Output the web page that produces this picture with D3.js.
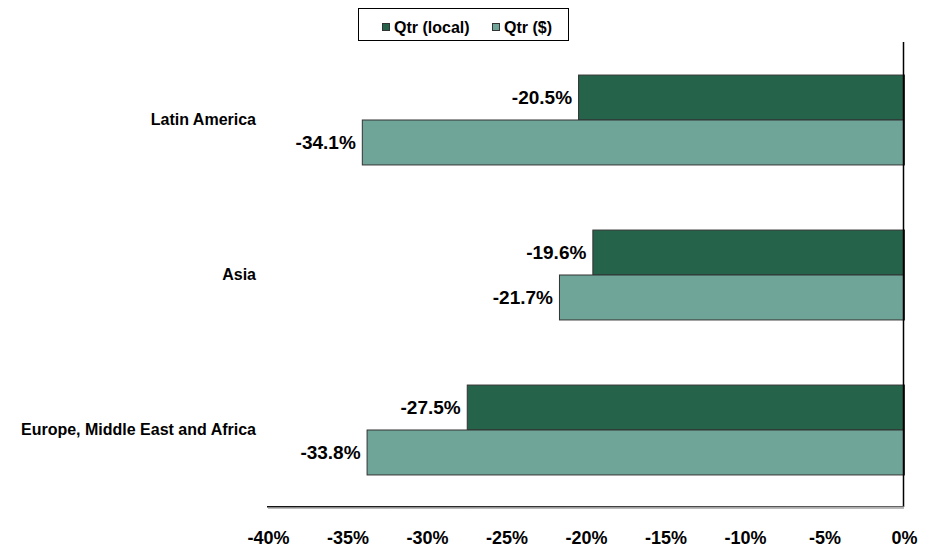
<!DOCTYPE html>
<html>
<head>
<meta charset="utf-8">
<script src="https://cdn.jsdelivr.net/npm/d3@7"></script>
<style>
  html, body { margin: 0; padding: 0; background: #fff; }
  svg text { font-family: "Liberation Sans", Arial, sans-serif; font-weight: bold; fill: #000; }
</style>
</head>
<body>
<svg id="chart" width="940" height="550"></svg>
<script>
const categories = ["Latin America", "Asia", "Europe, Middle East and Africa"];
const seriesNames = ["Qtr (local)", "Qtr ($)"];
const qtrLocal = [-20.5, -19.6, -27.5];
const qtrUSD = [-34.1, -21.7, -33.8];
const tickValues = [-40, -35, -30, -25, -20, -15, -10, -5, 0];
const colors = ["#25634a", "#6fa598"];

const svg = d3.select("#chart");
const x = d3.scaleLinear().domain([-40, 0]).range([268, 904]);
const y = d3.scaleBand().domain(categories).range([42, 507]).paddingInner(0.42).paddingOuter(0.21);
const ySub = d3.scaleBand().domain(seriesNames).range([0, y.bandwidth()]);

const data = categories.map((c, i) => ({cat: c, vals: [qtrLocal[i], qtrUSD[i]]}));

// bars
const groups = svg.append("g").selectAll("g").data(data).join("g")
  .attr("transform", d => `translate(0,${y(d.cat)})`);
groups.selectAll("rect").data(d => d.vals.map((v, j) => ({v, s: seriesNames[j], j})))
  .join("rect")
  .attr("x", d => x(d.v) + 0.5)
  .attr("y", d => ySub(d.s) + 0.5)
  .attr("width", d => x(0) - x(d.v))
  .attr("height", ySub.bandwidth())
  .attr("fill", d => colors[d.j])
  .attr("stroke", "#333")
  .attr("stroke-width", 1);

groups.selectAll("text.val").data(d => d.vals.map((v, j) => ({v, s: seriesNames[j]})))
  .join("text").attr("class", "val")
  .attr("x", d => x(d.v) - 6)
  .attr("y", d => ySub(d.s) + ySub.bandwidth() / 2)
  .attr("dy", "0.36em")
  .attr("text-anchor", "end")
  .style("font-size", "19px")
  .text(d => d.v.toFixed(1) + "%");

// category labels
svg.append("g").selectAll("text").data(categories).join("text")
  .attr("x", 256)
  .attr("y", d => y(d) + y.bandwidth() / 2)
  .attr("dy", "0.36em")
  .attr("text-anchor", "end")
  .style("font-size", "16px")
  .text(d => d);

// vertical axis line at 0
svg.append("line")
  .attr("x1", x(0) - 0.5).attr("x2", x(0) - 0.5)
  .attr("y1", 42).attr("y2", 507)
  .attr("stroke", "#000").attr("stroke-width", 1.5);

// bottom axis
const xAxis = d3.axisBottom(x).tickValues(tickValues).tickSize(0).tickPadding(0)
  .tickFormat(d => d + "%");
const ax = svg.append("g").attr("transform", "translate(0,507)").call(xAxis);
ax.select(".domain").remove();
ax.selectAll("text")
  .attr("y", 37).attr("dy", 0)
  .style("font-size", "18px")
  .style("font-family", "'Liberation Sans', Arial, sans-serif")
  .style("font-weight", "bold")
  .attr("fill", "#000");

const grad = svg.append("defs").append("linearGradient").attr("id", "axg")
  .attr("x1", "0%").attr("x2", "100%");
grad.append("stop").attr("offset", "0%").attr("stop-color", "#111");
grad.append("stop").attr("offset", "100%").attr("stop-color", "#666");
svg.append("rect")
  .attr("x", x(-40) - 1).attr("y", 506)
  .attr("width", x(0) - x(-40) + 1).attr("height", 1.5)
  .attr("fill", "url(#axg)");
svg.append("line")
  .attr("x1", x(-40)).attr("x2", x(0))
  .attr("y1", 508.5).attr("y2", 508.5)
  .attr("stroke", "#bbb").attr("stroke-width", 1);

// legend
const lg = svg.append("g");
lg.append("rect").attr("x", 358.5).attr("y", 8.5).attr("width", 210).attr("height", 32)
  .attr("fill", "#fff").attr("stroke", "#000").attr("stroke-width", 1);
const legendX = [382, 492];
seriesNames.forEach((s, i) => {
  lg.append("rect").attr("x", legendX[i] + 0.5).attr("y", 23.5).attr("width", 7).attr("height", 7)
    .attr("fill", colors[i]).attr("stroke", "#333").attr("stroke-width", 1);
  lg.append("text").attr("x", legendX[i] + 12).attr("y", 27).attr("dy", "0.36em")
    .style("font-size", "16px").text(s);
});
</script>
</body>
</html>
